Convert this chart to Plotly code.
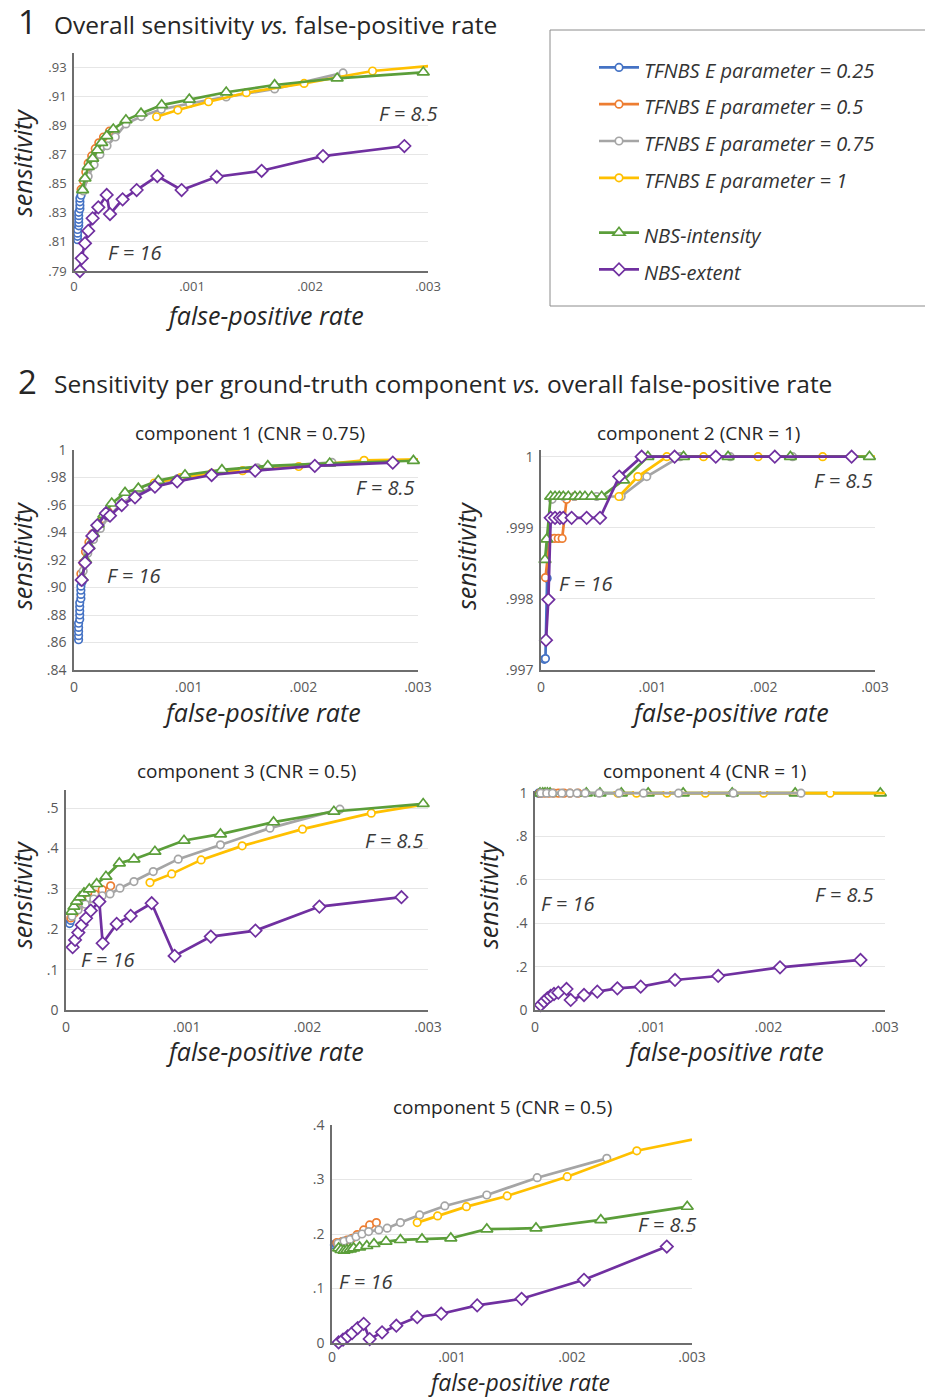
import plotly.graph_objects as go

W, H = 925, 1399

# ---------------- data ----------------
X_TICKS = [0, 0.001, 0.002, 0.003]
X_TICK_TEXT = ["0", ".001", ".002", ".003"]

# Panel 1: overall sensitivity
P1_TF025_X = [.00003, .00003, .00003, .00003, .00004, .00004, .00004, .00004, .00004, .00005, .00005, .00005, .00005, .00006]
P1_TF025_Y = [.8115, .8138, .816, .8185, .821, .8232, .8255, .828, .8303, .8327, .835, .8375, .840, .842]
P1_TF05_X = [.00006, .00008, .0001, .00012, .00015, .00018, .00021, .00025, .0003]
P1_TF05_Y = [.846, .852, .858, .864, .869, .874, .878, .882, .886]
P1_TF075_X = [.00008, .00012, .00017, .00022, .00028, .00035, .00044, .00057, .00074, .00098, .00129, .0017, .00228]
P1_TF075_Y = [.845, .855, .863, .870, .876, .882, .891, .896, .901, .905, .9095, .915, .926]
P1_TF1_X = [.0007, .00088, .00114, .00146, .00195, .00253, .0032]
P1_TF1_Y = [.8959, .9005, .9062, .9124, .9188, .9273, .932]
P1_NBSI_X = [.000073, .000093, .000121, .000158, .000198, .000235, .000277, .000333, .00044, .000568, .000743, .000977, .00129, .0017, .00223, .00296]
P1_NBSI_Y = [.8456, .8536, .8616, .8673, .873, .8781, .8827, .8873, .8936, .8982, .9039, .9078, .9127, .9177, .9223, .9264]
P1_NBSE_X = [.00005, .000065, .000093, .000121, .000158, .000206, .000277, .000305, .000412, .000531, .000706, .000912, .00121, .00159, .00211, .0028]
P1_NBSE_Y = [.79, .7987, .809, .8175, .8262, .8337, .8422, .8291, .8392, .8456, .8552, .8456, .8547, .8588, .8689, .8758]
P1_Y_TICKS = [.79, .81, .83, .85, .87, .89, .91, .93]
P1_Y_TICK_TEXT = [".79", ".81", ".83", ".85", ".87", ".89", ".91", ".93"]

# Component 1 (CNR = 0.75)
C1_TF025_X = [.00004, .00004, .00004, .00004, .00004, .00005, .00005, .00005, .00005, .00005, .00006, .00006, .00006, .00006, .00007]
C1_TF025_Y = [.862, .865, .868, .871, .874, .877, .880, .883, .886, .889, .892, .895, .898, .901, .904]
C1_TF05_X = [.00006, .00008, .0001, .00013, .00016, .0002, .00025, .0003]
C1_TF05_Y = [.91, .918, .926, .933, .939, .945, .95, .955]
C1_TF075_X = [.00008, .00012, .00017, .00023, .0003, .00041, .00053, .0007, .0009, .0012, .0016, .00225]
C1_TF075_Y = [.912, .925, .935, .943, .951, .961, .967, .974, .979, .983, .987, .991]
C1_TF1_X = [.0007, .00093, .0012, .00147, .00196, .00253, .0032]
C1_TF1_Y = [.976, .980, .983, .985, .988, .9925, .9935]
C1_NBSI_X = [.00007, .0001, .00013, .00017, .00021, .00026, .000329, .000445, .000561, .000735, .000968, .00129, .00169, .00223, .00296]
C1_NBSI_Y = [.907, .92, .93, .939, .946, .953, .9612, .969, .9721, .9777, .9818, .9855, .9884, .9903, .9922]
C1_NBSE_X = [.000067, .000096, .000125, .00016, .000203, .000279, .000314, .000416, .000532, .000706, .0009, .0012, .00158, .0021, .00278]
C1_NBSE_Y = [.9055, .918, .9285, .9375, .9452, .954, .9522, .96, .9656, .9733, .9772, .9818, .985, .9884, .9908]
C1_Y_TICKS = [.84, .86, .88, .90, .92, .94, .96, .98, 1.0]
C1_Y_TICK_TEXT = [".84", ".86", ".88", ".90", ".92", ".94", ".96", ".98", "1"]

# Component 2 (CNR = 1)
C2_TF025_X = [.00003, .00004, .000055, .00007, .00009]
C2_TF025_Y = [.99715, .99716, .99829, .99885, .99914]
C2_TF05_X = [.00004, .00008, .00012, .000155, .00019, .00023, .0003]
C2_TF05_Y = [.9983, .99885, .99885, .99885, .99885, .9994, .99944]
C2_TF075_X = [.0001, .0002, .0003, .0005, .00072, .00095, .00125, .0017, .00226]
C2_TF075_Y = [.9994, .99944, .99944, .99944, .99944, .99972, 1.0, 1.0, 1.0]
C2_TF1_X = [.0007, .00087, .00113, .00146, .00195, .00253, .0032]
C2_TF1_Y = [.99944, .99972, 1.0, 1.0, 1.0, 1.0, 1.0]
C2_NBSI_X = [.000036, .000051, .000087, .000126, .000164, .0002, .000245, .000305, .00035, .000395, .000455, .000545, .00074, .00096, .00128, .00168, .00224, .00295]
C2_NBSI_Y = [.99855, .99884, .99944, .99944, .99944, .99944, .99944, .99944, .99944, .99944, .99944, .99944, .99967, 1.0, 1.0, 1.0, 1.0, 1.0]
C2_NBSE_X = [.000045, .000066, .000087, .000126, .00017, .0002, .000275, .00041, .00053, .000703, .000904, .0012, .00157, .0021, .00279]
C2_NBSE_Y = [.99742, .99799, .99914, .99914, .99914, .99914, .99914, .99914, .99914, .99972, 1.0, 1.0, 1.0, 1.0, 1.0]
C2_Y_TICKS = [.997, .998, .999, 1.0]
C2_Y_TICK_TEXT = [".997", ".998", ".999", "1"]

# Component 3 (CNR = 0.5)
C3_TF025_X = [.00003, .00004]
C3_TF025_Y = [.214, .222]
C3_TF05_X = [.00004, .00007, .0001, .00014, .00019, .00024, .0003, .00037]
C3_TF05_Y = [.228, .24, .252, .264, .276, .287, .298, .3075]
C3_TF075_X = [.00005, .0001, .00016, .00023, .0003, .000365, .000447, .000563, .000723, .00093, .00128, .00169, .00227]
C3_TF075_Y = [.232, .248, .262, .275, .283, .2876, .3017, .3182, .343, .3737, .4091, .4505, .4976]
C3_TF1_X = [.000696, .000876, .00112, .00146, .00196, .00253, .0032]
C3_TF1_Y = [.3157, .3372, .3719, .4066, .448, .4877, .52]
C3_NBSI_X = [.000047, .000066, .000088, .000116, .000149, .000193, .000254, .000331, .000442, .000563, .000737, .000978, .00128, .00172, .00222, .00296]
C3_NBSI_Y = [.2438, .2562, .2686, .2794, .2893, .2992, .3124, .3306, .3637, .3737, .3925, .4198, .4356, .4654, .4917, .5108]
C3_NBSE_X = [.000055, .000075, .000102, .00013, .000166, .000205, .000276, .000304, .00042, .000536, .00071, .0009, .0012, .00157, .0021, .00278]
C3_NBSE_Y = [.1555, .1736, .1917, .2108, .2273, .2463, .2686, .1653, .2132, .2331, .2645, .1339, .1818, .1967, .2562, .2794]
C3_Y_TICKS = [0, .1, .2, .3, .4, .5]
C3_Y_TICK_TEXT = ["0", ".1", ".2", ".3", ".4", ".5"]

# Component 4 (CNR = 1)
C4_TF025_X = [.00003, .00004, .00005]
C4_TF025_Y = [1.0, 1.0, 1.0]
C4_TF05_X = [.00004, .00008, .00012, .00016, .0002, .00025, .0003, .00037]
C4_TF05_Y = [1.0, 1.0, 1.0, 1.0, 1.0, 1.0, 1.0, 1.0]
C4_TF075_X = [.00005, .0001, .00015, .00023, .0003, .00036, .00043, .00055, .00072, .00093, .00123, .0017, .00228]
C4_TF075_Y = [1.0, 1.0, 1.0, 1.0, 1.0, 1.0, 1.0, 1.0, 1.0, 1.0, 1.0, 1.0, 1.0]
C4_TF1_X = [.00071, .00087, .00113, .00146, .00196, .00253, .0032]
C4_TF1_Y = [1.0, 1.0, 1.0, 1.0, 1.0, 1.0, 1.0]
C4_NBSI_X = [.000043, .000066, .000086, .000106, .000129, .00044, .000557, .00074, .00097, .00127, .00169, .00223, .00296]
C4_NBSI_Y = [1.0, 1.0, 1.0, 1.0, 1.0, 1.0, 1.0, 1.0, 1.0, 1.0, 1.0, 1.0, 1.0]
C4_NBSE_X = [.000049, .000077, .000106, .000134, .000163, .0002, .00027, .000306, .00042, .000534, .000706, .000906, .0012, .00157, .0021, .00279]
C4_NBSE_Y = [.023, .0385, .054, .0646, .0738, .08, .0969, .0462, .0692, .0846, .1, .1077, .1385, .1569, .1969, .2308]
C4_Y_TICKS = [0, .2, .4, .6, .8, 1.0]
C4_Y_TICK_TEXT = ["0", ".2", ".4", ".6", ".8", "1"]

# Component 5 (CNR = 0.5)
C5_TF025_X = [.00002, .00003, .00004]
C5_TF025_Y = [.18, .182, .183]
C5_TF05_X = [.00004, .000083, .000125, .000167, .00021, .000264, .000314, .00037]
C5_TF05_Y = [.184, .186, .189, .192, .199, .2075, .2167, .2209]
C5_TF075_X = [.00005, .0001, .00015, .0002, .00025, .000305, .00039, .00046, .00057, .00073, .00094, .00129, .00171, .00229]
C5_TF075_Y = [.183, .187, .19, .195, .2, .2044, .2075, .2106, .2209, .235, .2515, .2716, .3033, .3388]
C5_TF1_X = [.00071, .00088, .00112, .00146, .00196, .00254, .0032]
C5_TF1_Y = [.2209, .2331, .2502, .2698, .3051, .3527, .382]
C5_NBSI_X = [.000055, .000075, .0001, .000125, .000153, .00018, .00023, .00029, .00035, .00045, .00057, .00075, .00099, .00129, .0017, .00224, .00296]
C5_NBSI_Y = [.174, .1709, .1696, .1709, .1722, .174, .1758, .1782, .1819, .1861, .1892, .1905, .1923, .2088, .2106, .2258, .2502]
C5_NBSE_X = [.000055, .000092, .00013, .000167, .000214, .000264, .000314, .000417, .000536, .00071, .00091, .00121, .00158, .0021, .00279]
C5_NBSE_Y = [.001, .006, .012, .018, .0275, .0353, .0073, .0195, .0317, .0476, .0537, .0689, .0811, .116, .177]
C5_Y_TICKS = [0, .1, .2, .3, .4]
C5_Y_TICK_TEXT = ["0", ".1", ".2", ".3", ".4"]

SERIES_NAMES = ["TFNBS E parameter = 0.25", "TFNBS E parameter = 0.5",
                "TFNBS E parameter = 0.75", "TFNBS E parameter = 1",
                "NBS-intensity", "NBS-extent"]
PANEL_TITLES = ["", "component 1 (CNR = 0.75)", "component 2 (CNR = 1)",
                "component 3 (CNR = 0.5)", "component 4 (CNR = 1)", "component 5 (CNR = 0.5)"]
F_LABELS = ["F = 8.5", "F = 16"]

# ---------------- styles ----------------
COLORS = ["#4472C4", "#ED7D31", "#A5A5A5", "#FFC000", "#5B9E3A", "#7030A0"]
SYMBOLS = ["circle", "circle", "circle", "circle", "triangle-up", "diamond"]
MSIZES = [7.5, 7.5, 7.5, 7.5, 10.5, 9.5]
GROUPS = ["tfnbs", "tfnbs", "tfnbs", "tfnbs", "nbs", "nbs"]

FONT = "Open Sans"
TXT = "#262626"
TICK = "#595959"

panels = [
    dict(series=[(P1_TF025_X, P1_TF025_Y), (P1_TF05_X, P1_TF05_Y), (P1_TF075_X, P1_TF075_Y),
                 (P1_TF1_X, P1_TF1_Y), (P1_NBSI_X, P1_NBSI_Y), (P1_NBSE_X, P1_NBSE_Y)],
         box=(74, 428, 271, 52.5), yr=[.79, .94], yt=(P1_Y_TICKS, P1_Y_TICK_TEXT), tfs=13,
         order=[0, 1, 2, 3, 4, 5], xtl=3,
         f85=(.00283, .8984), f16=(.00051, .803)),
    dict(series=[(C1_TF025_X, C1_TF025_Y), (C1_TF05_X, C1_TF05_Y), (C1_TF075_X, C1_TF075_Y),
                 (C1_TF1_X, C1_TF1_Y), (C1_NBSI_X, C1_NBSI_Y), (C1_NBSE_X, C1_NBSE_Y)],
         box=(74, 418, 670, 450), yr=[.84, 1.0], yt=(C1_Y_TICKS, C1_Y_TICK_TEXT), tfs=14,
         order=[0, 1, 2, 3, 4, 5], xtl=3,
         f85=(.00271, .9724), f16=(.00052, .9084)),
    dict(series=[(C2_TF025_X, C2_TF025_Y), (C2_TF05_X, C2_TF05_Y), (C2_TF075_X, C2_TF075_Y),
                 (C2_TF1_X, C2_TF1_Y), (C2_NBSI_X, C2_NBSI_Y), (C2_NBSE_X, C2_NBSE_Y)],
         box=(541, 875, 670, 449.6), yr=[.997, 1.0001], yt=(C2_Y_TICKS, C2_Y_TICK_TEXT), tfs=14,
         order=[0, 1, 2, 3, 4, 5], xtl=3,
         f85=(.00271, .99967), f16=(.0004, .99822)),
    dict(series=[(C3_TF025_X, C3_TF025_Y), (C3_TF05_X, C3_TF05_Y), (C3_TF075_X, C3_TF075_Y),
                 (C3_TF1_X, C3_TF1_Y), (C3_NBSI_X, C3_NBSI_Y), (C3_NBSE_X, C3_NBSE_Y)],
         box=(66, 428, 1010, 790), yr=[0, .545], yt=(C3_Y_TICKS, C3_Y_TICK_TEXT), tfs=14,
         order=[0, 1, 2, 3, 4, 5], xtl=3,
         f85=(.00272, .419), f16=(.00034, .124)),
    dict(series=[(C4_TF025_X, C4_TF025_Y), (C4_TF05_X, C4_TF05_Y), (C4_TF075_X, C4_TF075_Y),
                 (C4_TF1_X, C4_TF1_Y), (C4_NBSI_X, C4_NBSI_Y), (C4_NBSE_X, C4_NBSE_Y)],
         box=(535, 885, 1010, 791), yr=[0, 1.01], yt=(C4_Y_TICKS, C4_Y_TICK_TEXT), tfs=14,
         order=[0, 1, 4, 3, 2, 5], xtl=3,
         f85=(.00265, .531), f16=(.00028, .489)),
    dict(series=[(C5_TF025_X, C5_TF025_Y), (C5_TF05_X, C5_TF05_Y), (C5_TF075_X, C5_TF075_Y),
                 (C5_TF1_X, C5_TF1_Y), (C5_NBSI_X, C5_NBSI_Y), (C5_NBSE_X, C5_NBSE_Y)],
         box=(332, 692, 1343, 1125), yr=[0, .4], yt=(C5_Y_TICKS, C5_Y_TICK_TEXT), tfs=14,
         order=[0, 1, 2, 3, 4, 5], xtl=0,
         f85=(.00279, .2167), f16=(.00028, .112)),
]


def px(x):
    return x / W


def py(y):
    return 1 - y / H


fig = go.Figure()
layout_axes = {}
annotations = []

for pi, p in enumerate(panels):
    sfx = "" if pi == 0 else str(pi + 1)
    xref, yref = "x" + sfx, "y" + sfx
    for si in p["order"]:
        xs, ys = p["series"][si]
        fig.add_trace(go.Scatter(
            x=xs, y=ys, mode="lines+markers",
            name='<span style="font-size:20px"><i>' + SERIES_NAMES[si] + '</i></span>',
            legendgroup=GROUPS[si], showlegend=(pi == 0), legendrank=si + 1,
            line=dict(color=COLORS[si], width=2.7),
            marker=dict(symbol=SYMBOLS[si], size=MSIZES[si], color="white",
                        line=dict(color=COLORS[si], width=1.7)),
            cliponaxis=(si == 3),
            xaxis=xref, yaxis=yref,
        ))
    x0, x1, yb, yt = p["box"]
    layout_axes["xaxis" + sfx] = dict(
        domain=[px(x0), px(x1)], range=[0, 0.003], anchor=yref, automargin=False,
        tickvals=X_TICKS, ticktext=X_TICK_TEXT, showgrid=False, zeroline=False,
        showline=True, linecolor="#6e6e6e", linewidth=1.5,
        ticks="outside" if p["xtl"] else "", ticklen=max(p["xtl"], 1),
        tickcolor="rgba(0,0,0,0)",
        tickfont=dict(family=FONT, size=p["tfs"], color=TICK), fixedrange=True)
    layout_axes["yaxis" + sfx] = dict(
        domain=[py(yb), py(yt)], range=p["yr"], anchor=xref, automargin=False,
        tickvals=p["yt"][0], ticktext=p["yt"][1], showgrid=True, gridcolor="#e6e6e6",
        gridwidth=1, zeroline=False, showline=True, linecolor="#6e6e6e", linewidth=1.5,
        ticks="outside", ticklen=3, tickcolor="rgba(0,0,0,0)",
        tickfont=dict(family=FONT, size=p["tfs"], color=TICK), fixedrange=True)
    for (fx, fy), lab in zip((p["f85"], p["f16"]), F_LABELS):
        annotations.append(dict(x=fx, y=fy, xref=xref, yref=yref, text="<i>" + lab + "</i>",
                                showarrow=False, font=dict(family=FONT, size=20, color="#3a3a3a")))

# panel titles
title_pos = [None, (250, 433), (698, 433), (246, 771), (704, 771), (502, 1107)]
for t, pos in zip(PANEL_TITLES, title_pos):
    if pos:
        annotations.append(dict(x=px(pos[0]), y=py(pos[1]), xref="paper", yref="paper",
                                text=t, showarrow=False, xanchor="center", yanchor="middle",
                                font=dict(family=FONT, size=19, color=TXT)))

# axis titles
x_titles = [(265, 315, 25), (262, 712, 25), (730, 712, 25), (265, 1051, 25), (725, 1051, 25),
            (519, 1381.5, 23)]
for xx, yy, fs in x_titles:
    annotations.append(dict(x=px(xx), y=py(yy), xref="paper", yref="paper",
                            text="<i>false-positive rate</i>", showarrow=False,
                            xanchor="center", yanchor="middle",
                            font=dict(family=FONT, size=fs, color=TXT)))
y_titles = [(22, 163), (22, 556), (466, 556), (22, 895), (488, 895)]
for xx, yy in y_titles:
    annotations.append(dict(x=px(xx), y=py(yy), xref="paper", yref="paper",
                            text="<i>sensitivity</i>", showarrow=False, textangle=-90,
                            xanchor="center", yanchor="middle",
                            font=dict(family=FONT, size=25, color=TXT)))

# section headings
annotations += [
    dict(x=px(16), y=py(22), xref="paper", yref="paper", text="1", showarrow=False,
         xanchor="left", yanchor="middle", font=dict(family=FONT, size=33, color=TXT)),
    dict(x=px(52), y=py(25), xref="paper", yref="paper",
         text="Overall sensitivity <i>vs.</i> false-positive rate", showarrow=False,
         xanchor="left", yanchor="middle", font=dict(family=FONT, size=24.5, color=TXT)),
    dict(x=px(16), y=py(381), xref="paper", yref="paper", text="2", showarrow=False,
         xanchor="left", yanchor="middle", font=dict(family=FONT, size=33, color=TXT)),
    dict(x=px(52), y=py(384), xref="paper", yref="paper",
         text="Sensitivity per ground-truth component <i>vs.</i> overall false-positive rate",
         showarrow=False, xanchor="left", yanchor="middle",
         font=dict(family=FONT, size=24.5, color=TXT)),
]

fig.update_layout(
    width=W, height=H, margin=dict(l=0, r=0, t=0, b=0, autoexpand=False),
    paper_bgcolor="white", plot_bgcolor="white",
    font=dict(family=FONT, color=TXT),
    showlegend=True,
    legend=dict(x=px(594), y=py(44), xanchor="left", yanchor="top",
                font=dict(family=FONT, size=26, color="#333333"),
                traceorder="grouped", tracegroupgap=18, bgcolor="rgba(0,0,0,0)",
                itemwidth=40),
    annotations=annotations,
    shapes=[dict(type="rect", xref="paper", yref="paper", x0=px(550), x1=1.02,
                 y0=py(306), y1=py(30), line=dict(color="#8c8c8c", width=1))],
    **layout_axes,
)

fig.write_html("out.html",
               config={"displayModeBar": False},
               post_script="document.body.style.margin='0px';"
                           "document.body.style.padding='0px';"
                           "document.documentElement.style.overflow='hidden';")
